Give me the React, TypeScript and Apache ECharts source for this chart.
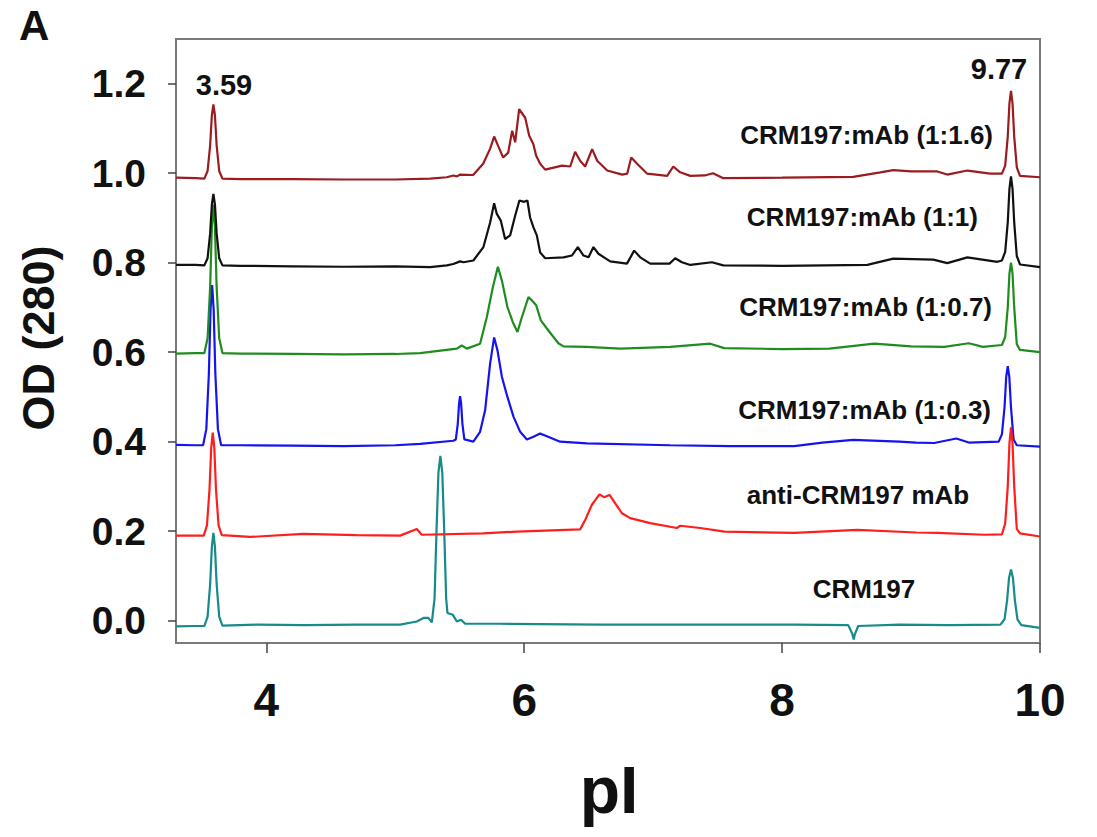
import React, { useEffect, useRef } from "react";
import * as echarts from "echarts";

// ---- Data (pI, OD280) ----
const xTicks = [4, 6, 8, 10];
const yTicks = [0, 0.2, 0.4, 0.6, 0.8, 1.0, 1.2];

const seriesNames = [
  "CRM197",
  "CRM197:mAb (1:0.3)",
  "anti-CRM197 mAb",
  "CRM197:mAb (1:0.7)",
  "CRM197:mAb (1:1)",
  "CRM197:mAb (1:1.6)",
];

const crm197: number[][] = [
  [3.3, -0.013], [3.45, -0.012],
  [3.52, -0.012], [3.545, 0.009], [3.565, 0.082], [3.578, 0.165], [3.59, 0.196], [3.602, 0.165], [3.615, 0.082], [3.635, 0.009], [3.66, -0.011],
  [3.926, -0.009], [4.3, -0.01], [4.7, -0.009], [5.038, -0.009], [5.167, -0.002], [5.219, 0.006], [5.257, 0.006], [5.284, -0.004],
  [5.305, 0.05], [5.32, 0.2], [5.335, 0.33], [5.35, 0.368], [5.365, 0.33], [5.38, 0.2], [5.395, 0.05],
  [5.405, 0.017], [5.447, 0.013], [5.478, -0.002], [5.511, 0.002], [5.542, -0.007], [5.814, -0.007], [6.589, -0.009], [7.365, -0.009],
  [8.094, -0.009], [8.513, -0.01], [8.545, -0.03], [8.555, -0.042], [8.565, -0.03], [8.59, -0.012], [8.909, -0.009], [9.3, -0.01], [9.693, -0.009],
  [9.725, 0.003], [9.745, 0.046], [9.76, 0.096], [9.775, 0.114], [9.79, 0.096], [9.805, 0.046], [9.825, 0.003], [9.855, -0.01],
  [10.0, -0.016],
];

const mab13: number[][] = [
  [3.3, 0.393], [3.45, 0.392],
  [3.51, 0.392], [3.535, 0.428], [3.555, 0.553], [3.568, 0.696], [3.58, 0.75], [3.592, 0.696], [3.605, 0.553], [3.625, 0.428], [3.65, 0.392],
  [3.8, 0.392], [4.2, 0.391], [4.6, 0.39], [5.0, 0.392], [5.193, 0.395], [5.451, 0.402],
  [5.47, 0.405], [5.485, 0.44], [5.495, 0.485], [5.503, 0.502], [5.511, 0.485], [5.521, 0.44], [5.536, 0.405],
  [5.606, 0.4], [5.658, 0.422], [5.697, 0.47], [5.736, 0.575], [5.767, 0.633], [5.793, 0.604], [5.827, 0.545], [5.87, 0.5],
  [5.917, 0.456], [5.969, 0.422], [6.021, 0.405], [6.072, 0.411], [6.124, 0.418], [6.176, 0.412], [6.279, 0.4], [6.486, 0.396],
  [7.132, 0.392], [7.6, 0.39], [8.094, 0.39], [8.312, 0.398], [8.552, 0.404], [8.909, 0.4], [9.04, 0.398], [9.18, 0.397],
  [9.351, 0.407], [9.448, 0.398], [9.68, 0.4],
  [9.705, 0.417], [9.725, 0.477], [9.738, 0.545], [9.75, 0.569], [9.762, 0.545], [9.775, 0.477], [9.795, 0.405], [9.82, 0.392],
  [10.0, 0.389],
];

const antiMab: number[][] = [
  [3.3, 0.19], [3.45, 0.19],
  [3.515, 0.19], [3.54, 0.213], [3.56, 0.294], [3.573, 0.386], [3.585, 0.42], [3.597, 0.386], [3.61, 0.294], [3.63, 0.213], [3.655, 0.191],
  [3.874, 0.187], [4.285, 0.194], [4.7, 0.191], [5.038, 0.19], [5.167, 0.205], [5.206, 0.192], [5.682, 0.195], [5.943, 0.199],
  [6.434, 0.204], [6.473, 0.225], [6.525, 0.259], [6.584, 0.282], [6.62, 0.276], [6.662, 0.281], [6.706, 0.262], [6.758, 0.24],
  [6.822, 0.229], [6.977, 0.218], [7.184, 0.207], [7.21, 0.212], [7.365, 0.207], [7.554, 0.199], [8.094, 0.196], [8.583, 0.203],
  [9.041, 0.197], [9.204, 0.196], [9.568, 0.192], [9.705, 0.193],
  [9.73, 0.217], [9.75, 0.3], [9.763, 0.396], [9.775, 0.432], [9.787, 0.396], [9.8, 0.3], [9.82, 0.205], [9.845, 0.195],
  [10.0, 0.188],
];

const mab107: number[][] = [
  [3.3, 0.597], [3.45, 0.598],
  [3.52, 0.598], [3.545, 0.631], [3.565, 0.747], [3.578, 0.88], [3.59, 0.93], [3.602, 0.88], [3.615, 0.747], [3.635, 0.631], [3.66, 0.598],
  [3.8, 0.597], [4.2, 0.596], [4.6, 0.595], [5.0, 0.596], [5.193, 0.598], [5.478, 0.608], [5.516, 0.615], [5.555, 0.608],
  [5.658, 0.619], [5.71, 0.678], [5.757, 0.745], [5.796, 0.791], [5.827, 0.76], [5.87, 0.701], [5.912, 0.667], [5.948, 0.645],
  [5.982, 0.678], [6.008, 0.701], [6.033, 0.723], [6.059, 0.716], [6.093, 0.705], [6.129, 0.671], [6.176, 0.653], [6.227, 0.634],
  [6.265, 0.62], [6.305, 0.613], [6.486, 0.612], [6.745, 0.608], [7.132, 0.612], [7.443, 0.619], [7.551, 0.609], [8.0, 0.607], [8.366, 0.608],
  [8.715, 0.619], [9.0, 0.613], [9.258, 0.612], [9.448, 0.62], [9.557, 0.612], [9.705, 0.616],
  [9.73, 0.634], [9.75, 0.7], [9.763, 0.776], [9.775, 0.8], [9.787, 0.776], [9.8, 0.7], [9.82, 0.618], [9.845, 0.605],
  [10.0, 0.6],
];

const mab11: number[][] = [
  [3.3, 0.795], [3.45, 0.795],
  [3.52, 0.794], [3.545, 0.81], [3.565, 0.866], [3.578, 0.93], [3.59, 0.954], [3.602, 0.93], [3.615, 0.866], [3.635, 0.81], [3.66, 0.794],
  [3.8, 0.793], [4.2, 0.792], [4.6, 0.791], [5.0, 0.792], [5.271, 0.79], [5.4, 0.794], [5.45, 0.797], [5.503, 0.803], [5.529, 0.801],
  [5.606, 0.805], [5.684, 0.835], [5.736, 0.89], [5.767, 0.933], [5.788, 0.909], [5.819, 0.894], [5.852, 0.853], [5.891, 0.861],
  [5.93, 0.905], [5.963, 0.939], [6.0, 0.936], [6.025, 0.939], [6.046, 0.901], [6.072, 0.879], [6.098, 0.861], [6.124, 0.823],
  [6.163, 0.81], [6.305, 0.812], [6.37, 0.816], [6.416, 0.835], [6.46, 0.816], [6.499, 0.812], [6.537, 0.835], [6.576, 0.82],
  [6.667, 0.803], [6.797, 0.798], [6.853, 0.827], [6.9, 0.812], [6.977, 0.798], [7.127, 0.798], [7.171, 0.81], [7.223, 0.801],
  [7.288, 0.795], [7.456, 0.801], [7.544, 0.794], [8.0, 0.793], [8.661, 0.795], [8.862, 0.809], [9.173, 0.807], [9.281, 0.799],
  [9.437, 0.812], [9.669, 0.802], [9.705, 0.805],
  [9.73, 0.824], [9.75, 0.89], [9.763, 0.965], [9.775, 0.993], [9.787, 0.965], [9.8, 0.89], [9.82, 0.815], [9.845, 0.796],
  [10.0, 0.79],
];

const mab116: number[][] = [
  [3.3, 0.99], [3.45, 0.989],
  [3.52, 0.988], [3.545, 1.005], [3.565, 1.063], [3.578, 1.129], [3.59, 1.154], [3.602, 1.129], [3.615, 1.063], [3.635, 1.005], [3.66, 0.988],
  [3.8, 0.987], [4.2, 0.987], [4.6, 0.986], [5.0, 0.986], [5.27, 0.988], [5.4, 0.991], [5.45, 0.995], [5.48, 0.993], [5.503, 0.997],
  [5.604, 0.996], [5.682, 1.021], [5.736, 1.055], [5.767, 1.082], [5.798, 1.061], [5.837, 1.035], [5.876, 1.046], [5.907, 1.095],
  [5.93, 1.069], [5.961, 1.143], [6.008, 1.124], [6.039, 1.084], [6.07, 1.066], [6.093, 1.039], [6.124, 1.021], [6.163, 1.008],
  [6.295, 1.017], [6.357, 1.015], [6.395, 1.048], [6.434, 1.028], [6.473, 1.015], [6.527, 1.054], [6.566, 1.028], [6.644, 1.006],
  [6.76, 0.997], [6.799, 0.999], [6.83, 1.035], [6.876, 1.021], [6.954, 0.999], [7.109, 0.994], [7.156, 1.015], [7.21, 1.002],
  [7.288, 0.994], [7.4, 0.995], [7.464, 1.0], [7.544, 0.989], [8.0, 0.99], [8.552, 0.992], [8.762, 1.002], [8.862, 1.007],
  [9.0, 1.004], [9.204, 1.004], [9.281, 0.997], [9.437, 1.006], [9.615, 0.999], [9.705, 0.999],
  [9.73, 1.017], [9.75, 1.082], [9.763, 1.156], [9.775, 1.184], [9.787, 1.156], [9.8, 1.082], [9.82, 1.013], [9.845, 0.994],
  [10.0, 0.991],
];

const seriesData = [crm197, mab13, antiMab, mab107, mab11, mab116];
const seriesColors = ["#178a8a", "#1414f0", "#ff1e1e", "#1f8c1f", "#111111", "#9c1b1f"];

const peakLabels = ["3.59", "9.77"];

const FONT = "'Liberation Sans', Arial, sans-serif";

export default function App() {
  const ref = useRef<HTMLDivElement>(null);

  useEffect(() => {
    if (!ref.current) return;
    const chart = echarts.init(ref.current, null, { renderer: "svg" });

    const txt = (
      text: string,
      x: number,
      y: number,
      size: number,
      align: string,
      extra: any = {}
    ) => ({
      type: "text",
      x,
      y,
      silent: true,
      ...extra,
      style: {
        text,
        fill: "#111",
        font: `bold ${size}px ${FONT}`,
        align,
        verticalAlign: "middle",
      },
    });

    chart.setOption({
      animation: false,
      backgroundColor: "#ffffff",
      grid: {
        left: 176,
        right: 57,
        top: 39,
        bottom: 194,
        show: true,
        borderColor: "#7a7a7a",
        borderWidth: 2,
        backgroundColor: "transparent",
      },
      xAxis: {
        type: "value",
        min: 3.3,
        max: 10,
        splitLine: { show: false },
        axisLine: { show: true, onZero: false, lineStyle: { color: "#7a7a7a", width: 2 } },
        axisTick: {
          show: true,
          inside: false,
          length: 10,
          customValues: xTicks,
          lineStyle: { color: "#444", width: 1.5 },
        },
        axisLabel: {
          customValues: xTicks,
          margin: 34,
          color: "#111",
          fontSize: 46,
          fontWeight: "bold",
          fontFamily: FONT,
          formatter: (v: number) => String(v),
        },
      },
      yAxis: {
        type: "value",
        min: -0.05,
        max: 1.3,
        splitLine: { show: false },
        axisLine: { show: true, onZero: false, lineStyle: { color: "#7a7a7a", width: 2 } },
        axisTick: {
          show: true,
          inside: false,
          length: 8,
          customValues: yTicks,
          lineStyle: { color: "#444", width: 1.5 },
        },
        axisLabel: {
          customValues: yTicks,
          margin: 30,
          color: "#111",
          fontSize: 39,
          fontWeight: "bold",
          fontFamily: FONT,
          formatter: (v: number) => v.toFixed(1),
        },
      },
      series: seriesData.map((d, i) => ({
        name: seriesNames[i],
        type: "line",
        data: d,
        symbol: "none",
        silent: true,
        lineStyle: { color: seriesColors[i], width: 2.2 },
        z: 2 + i,
      })),
      graphic: [
        txt("A", 19, 25, 42, "left"),
        txt(peakLabels[0], 224, 85, 29, "center"),
        txt(peakLabels[1], 999, 69, 29, "center"),
        txt(seriesNames[5], 993, 135, 26, "right"),
        txt(seriesNames[4], 978, 217, 26, "right"),
        txt(seriesNames[3], 992, 307, 26, "right"),
        txt(seriesNames[1], 991, 410, 26, "right"),
        txt(seriesNames[2], 858, 495, 26, "center"),
        txt(seriesNames[0], 864, 589, 26, "center"),
        txt("pI", 609, 790, 66, "center"),
        txt("OD (280)", 38, 338, 45, "center", { rotation: Math.PI / 2 }),
      ],
    });

    return () => chart.dispose();
  }, []);

  return (
    <div
      ref={ref}
      style={{ position: "absolute", left: 0, top: 0, width: 1097, height: 837 }}
    />
  );
}
